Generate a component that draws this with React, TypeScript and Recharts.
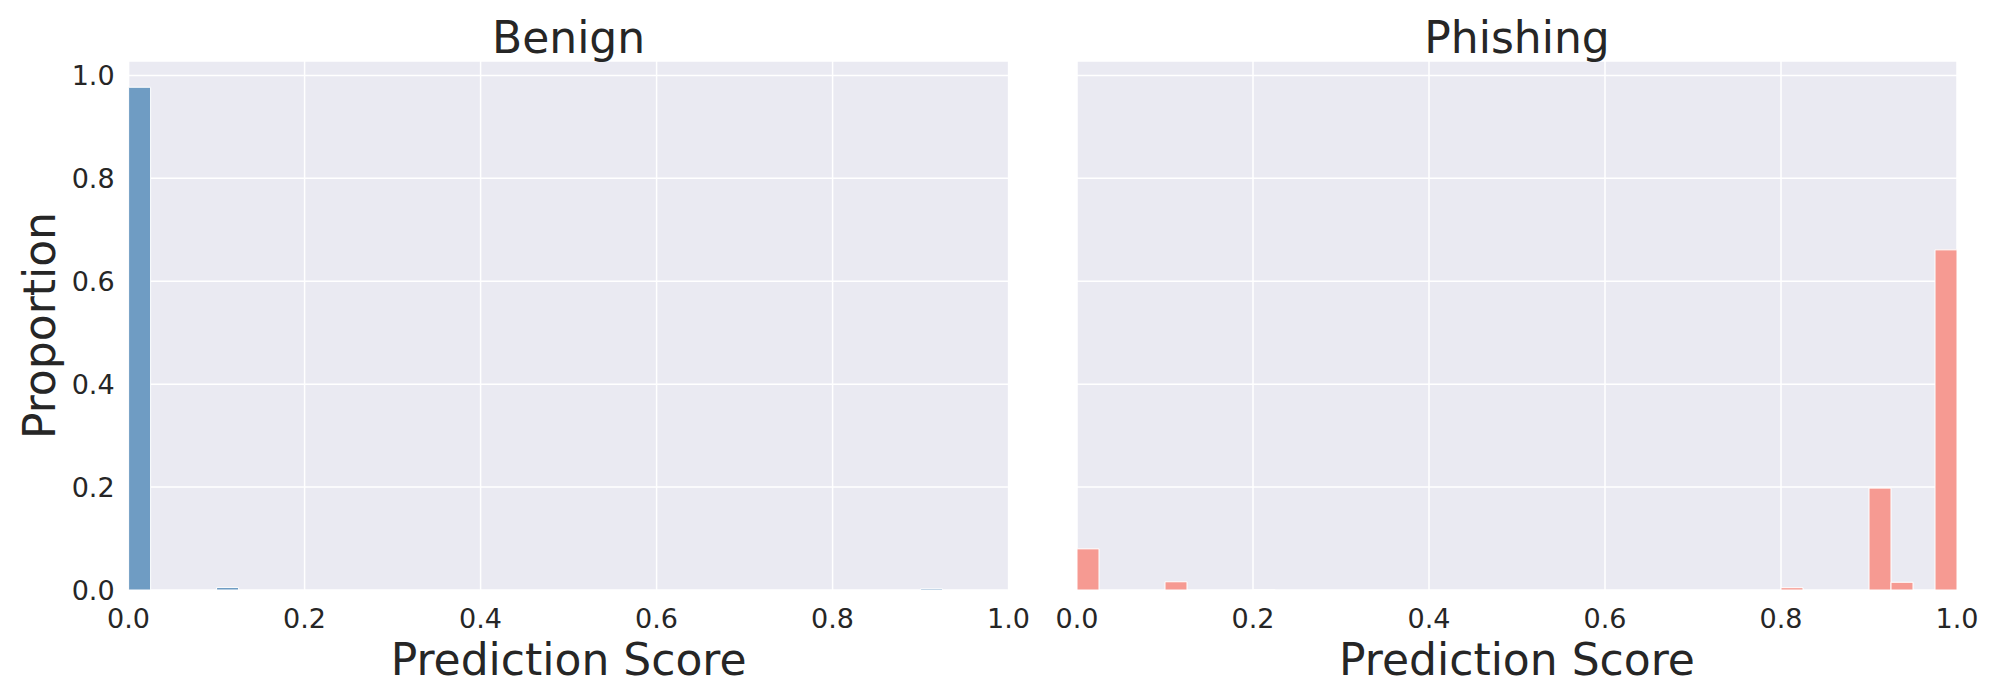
import { Bar, BarChart, CartesianGrid, Label, XAxis, YAxis } from "recharts"

// histogram bins of width 0.025 over [0, 1]
const binStarts = Array.from({ length: 40 }, (_, i) => +(i * 0.025).toFixed(3))

const benign = [
  0.977, 0, 0, 0, 0.005, 0, 0, 0, 0, 0,
  0, 0, 0, 0, 0, 0, 0, 0, 0, 0,
  0, 0, 0, 0, 0, 0, 0, 0, 0, 0,
  0, 0, 0, 0, 0, 0, 0.0025, 0, 0, 0,
]

const phishing = [
  0.08, 0, 0, 0, 0.016, 0, 0, 0, 0.001, 0,
  0, 0, 0, 0, 0, 0, 0, 0, 0, 0,
  0, 0, 0, 0, 0, 0, 0, 0, 0, 0,
  0, 0, 0.0045, 0, 0, 0, 0.198, 0.015, 0, 0.661,
]

const xTicks = [0, 0.2, 0.4, 0.6, 0.8, 1.0]
const yTicks = [0, 0.2, 0.4, 0.6, 0.8, 1.0]

const INK = "#262626"
const FONT = "'DejaVu Sans', sans-serif"

type PanelProps = {
  values: number[]
  color: string
  left: number
  width: number
  margin: { top: number; right: number; bottom: number; left: number }
  showY: boolean
}

function Panel({ values, color, left, width, margin, showY }: PanelProps) {
  const data = binStarts.map((b, i) => ({ bin: b, value: values[i] }))
  return (
    <div style={{ position: "absolute", left, top: 0 }}>
      <BarChart width={width} height={700} data={data} margin={margin} barCategoryGap={0} barGap={0}>
        <CartesianGrid xAxisId="num" fill="#EAEAF2" stroke="#ffffff" strokeWidth={1.5} />
        <XAxis xAxisId="bins" dataKey="bin" hide height={0} />
        <XAxis
          xAxisId="num"
          dataKey="bin"
          type="number"
          domain={[0, 1]}
          allowDataOverflow
          ticks={xTicks}
          interval={0}
          height={110}
          axisLine={false}
          tickLine={false}
          tickSize={0}
          tickMargin={19}
          tick={{ fontSize: 27, fill: INK }}
          tickFormatter={(v) => v.toFixed(1)}
        >
          <Label
            value="Prediction Score"
            position="insideBottom"
            offset={25}
            style={{ fontSize: 44, fill: INK }}
          />
        </XAxis>
        <YAxis
          type="number"
          domain={[0, 1.028]}
          ticks={yTicks}
          interval={0}
          allowDataOverflow
          hide={!showY}
          width={128.6}
          axisLine={false}
          tickLine={false}
          tickSize={0}
          tickMargin={14}
          tick={{ fontSize: 27, fill: INK }}
          tickFormatter={(v) => v.toFixed(1)}
        >
          <Label
            value="Proportion"
            angle={-90}
            position="insideLeft"
            offset={39}
            style={{ fontSize: 44, fill: INK, textAnchor: "middle" }}
          />
        </YAxis>
        <Bar
          xAxisId="bins"
          dataKey="value"
          fill={color}
          stroke="#ffffff"
          strokeWidth={1}
          isAnimationActive={false}
        />
      </BarChart>
    </div>
  )
}

export default function App() {
  return (
    <div
      style={{
        position: "absolute",
        left: 0,
        top: 0,
        width: 2000,
        height: 700,
        background: "#ffffff",
        fontFamily: FONT,
      }}
    >
      <Panel
        values={benign}
        color="#6F9CC3"
        left={0}
        width={1030}
        margin={{ top: 61, right: 21.4, bottom: 0, left: 0 }}
        showY
      />
      <Panel
        values={phishing}
        color="#F69A92"
        left={1040}
        width={960}
        margin={{ top: 61, right: 43, bottom: 0, left: 37 }}
        showY={false}
      />
      <svg
        width={2000}
        height={700}
        style={{ position: "absolute", left: 0, top: 0, pointerEvents: "none" }}
      >
        <text x={568.6} y={53} textAnchor="middle" fontSize={44} fill={INK} fontFamily={FONT}>
          Benign
        </text>
        <text x={1517} y={53} textAnchor="middle" fontSize={44} fill={INK} fontFamily={FONT}>
          Phishing
        </text>
      </svg>
    </div>
  )
}
